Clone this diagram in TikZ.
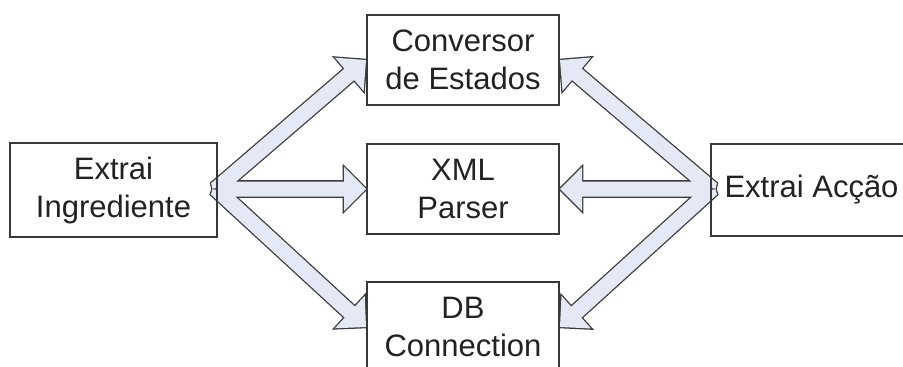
\documentclass[tikz,border=0pt]{standalone}
\usepackage{fontspec}
\setmainfont{Liberation Sans}
\usetikzlibrary{calc,backgrounds}
\definecolor{arrowfill}{HTML}{E4E9F5}
\definecolor{arrowline}{HTML}{3C3C3C}
\definecolor{boxline}{HTML}{383838}
\definecolor{txt}{HTML}{222222}
\newcommand\BAshape[3]{%
  \path let \p1=($(#2)-(#1)$), \n1={atan2(\y1,\x1)}, \n2={veclen(\x1,\y1)} in
    \pgfextra{\xdef\BAang{\n1}\xdef\BAlen{\n2}};
  \path[#3, shift={(#1)}, rotate=\BAang]
    (0pt,7.5pt) -- ({\BAlen-22pt},7.5pt) -- ({\BAlen-22pt},22pt) -- ({\BAlen},0pt)
    -- ({\BAlen-22pt},-22pt) -- ({\BAlen-22pt},-7.5pt) -- (0pt,-7.5pt)
    -- (-2.5pt,-2.5pt) -- (1.5pt,0pt) -- (-2.5pt,2.5pt) -- cycle;
}
\tikzset{
  box/.style={draw=boxline, line width=2pt, inner sep=0pt, align=center, text=txt,
    font=\fontsize{31}{38}\selectfont},
  arrowout/.style={draw=arrowline, line width=2.6pt, line join=miter},
  arrowin/.style={fill=arrowfill},
}
\begin{document}
\begin{tikzpicture}[x=1pt,y=-1pt]
\useasboundingbox (0,0) rectangle (903,367);
\clip (0,0) rectangle (903,367);
\node[box, minimum width=207pt, minimum height=94pt] (ing) at (113.5,190) {Extrai\\Ingrediente};
\node[box, minimum width=192pt, minimum height=90pt] (conv) at (463,60) {Conversor\\de Estados};
\node[box, minimum width=192pt, minimum height=90pt] (xml) at (463,189) {XML\\Parser};
\node[box, minimum width=192pt, minimum height=90pt] (db) at (463,327) {DB\\Connection};
\node[box, minimum width=201pt, minimum height=92pt] (acc) at (811.5,190) {Extrai Acção};
\coordinate (lt) at ($(ing.east)+(-2,-1)$);
\coordinate (rt) at ($(acc.west)+(2,-1)$);
\begin{scope}[on background layer]
  \foreach \a/\b in {lt/conv.west, lt/xml.west, lt/db.west, rt/conv.east, rt/xml.east, rt/db.east}
    {\BAshape{\a}{\b}{arrowout}}
  \foreach \a/\b in {lt/conv.west, lt/xml.west, lt/db.west, rt/conv.east, rt/xml.east, rt/db.east}
    {\BAshape{\a}{\b}{arrowin}}
\end{scope}
\end{tikzpicture}
\end{document}
